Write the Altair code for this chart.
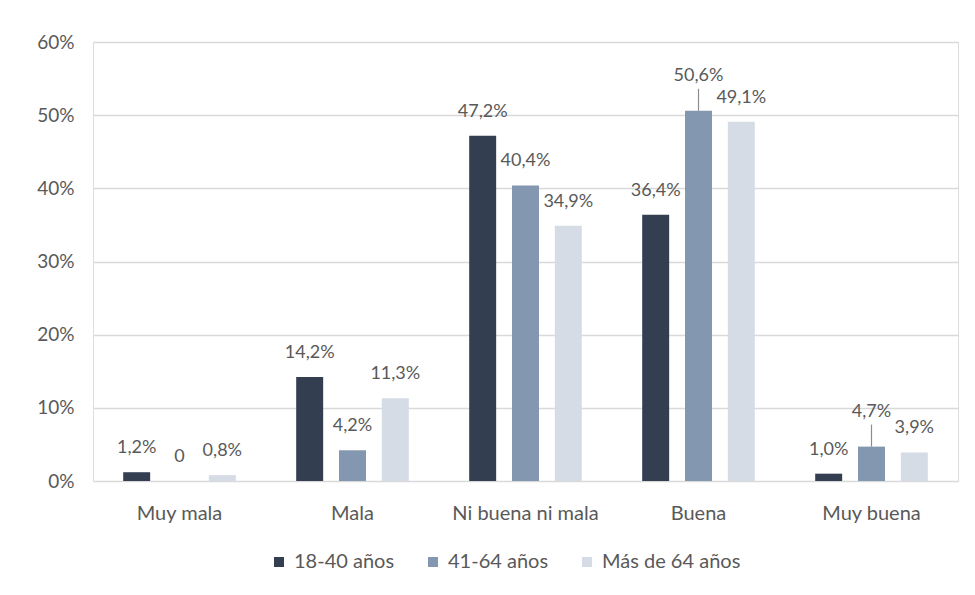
import altair as alt
import pandas as pd

categories = ["Muy mala", "Mala", "Ni buena ni mala", "Buena", "Muy buena"]
series = ["18-40 años", "41-64 años", "Más de 64 años"]
values_18_40 = [1.2, 14.2, 47.2, 36.4, 1.0]
values_41_64 = [0.0, 4.2, 40.4, 50.6, 4.7]
values_64_mas = [0.8, 11.3, 34.9, 49.1, 3.9]
colors = ["#333F50", "#8497B0", "#D6DCE5"]
y_ticks = [0, 10, 20, 30, 40, 50, 60]

rows = []
for s, vals in zip(series, [values_18_40, values_41_64, values_64_mas]):
    for c, v in zip(categories, vals):
        rows.append({"categoria": c, "grupo": s, "valor": v})
df = pd.DataFrame(rows)

FONT = "Lato"
TXT = "#595959"

base = alt.Chart(df).transform_calculate(
    label="datum.valor == 0 ? '0' : replace(format(datum.valor, '.1f'), '.', ',') + '%'",
    raised="(datum.categoria == 'Buena' || datum.categoria == 'Muy buena') && datum.grupo == '41-64 años'",
).encode(
    x=alt.X(
        "categoria:N",
        sort=categories,
        scale=alt.Scale(paddingInner=0.25, paddingOuter=0.125),
        axis=alt.Axis(
            title=None, labelAngle=0, ticks=False, domain=False,
            labelFont=FONT, labelFontSize=20, labelColor=TXT, labelPadding=22,
        ),
    ),
    xOffset=alt.XOffset("grupo:N", sort=series,
                        scale=alt.Scale(paddingInner=0.37, paddingOuter=0.2)),
)

y_scale = alt.Scale(domain=[0, 60])

bars = base.mark_bar().encode(
    y=alt.Y(
        "valor:Q",
        scale=y_scale,
        axis=alt.Axis(
            title=None, values=y_ticks, labelExpr="datum.value + '%'",
            ticks=False, domain=False, grid=True, gridColor="#D9D9D9", gridWidth=1.5,
            labelFont=FONT, labelFontSize=19, labelColor=TXT, labelPadding=19,
        ),
    ),
    color=alt.Color(
        "grupo:N",
        sort=series,
        scale=alt.Scale(domain=series, range=colors),
        legend=alt.Legend(
            title=None, orient="none", legendX=176, legendY=510,
            direction="horizontal", columns=3,
            symbolType="square", symbolSize=100, symbolStrokeWidth=0,
            labelFont=FONT, labelFontSize=20, labelColor=TXT,
            columnPadding=28, labelOffset=5,
        ),
    ),
)

labels = base.transform_filter("!datum.raised").mark_text(
    font=FONT, fontSize=18, color=TXT, baseline="middle", dy=-24
).encode(y=alt.Y("valor:Q", scale=y_scale), text="label:N")

raised_labels = base.transform_filter("datum.raised").mark_text(
    font=FONT, fontSize=18, color=TXT, baseline="middle", dy=-35
).encode(y=alt.Y("valor:Q", scale=y_scale), text="label:N")

leaders = base.transform_filter("datum.raised").mark_rule(
    color="#8c8c8c", strokeWidth=1.2, y2Offset=-22
).encode(y=alt.Y("valor:Q", scale=y_scale), y2=alt.Y2("valor:Q"))

chart = alt.layer(bars, leaders, labels, raised_labels).properties(
    width=865,
    height=439,
    autosize=alt.AutoSizeParams(type="none"),
    padding={"left": 85, "top": 34, "right": 9, "bottom": 106},
).configure_view(stroke=None).configure(background="white")

chart.save("out.html", embed_options={"renderer": "svg", "actions": False})
